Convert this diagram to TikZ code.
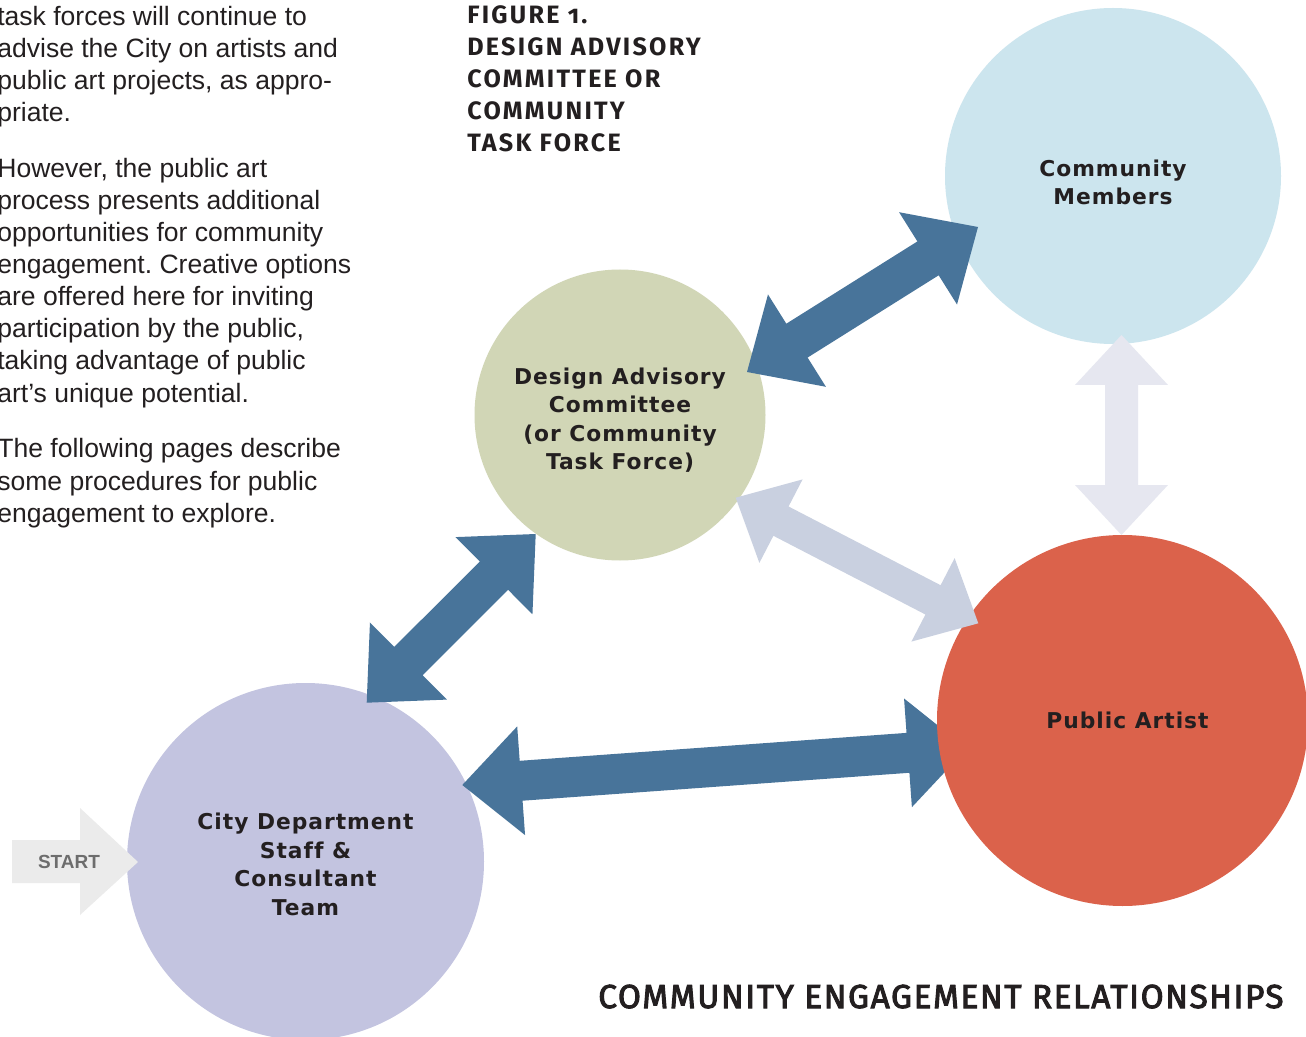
\documentclass[tikz,border=0pt]{standalone}
\usepackage{fontspec}
\setmainfont{Liberation Sans}
\newfontfamily\headfont[Numbers=OldStyle,LetterSpace=9]{Fira Sans}
\newfontfamily\labfont[LetterSpace=4.5,Ligatures=NoCommon]{DejaVu Sans}
\newfontfamily\titlefont[FakeBold=3,LetterSpace=5]{Fira Sans}
\usetikzlibrary{calc}
\definecolor{darkarrow}{HTML}{48749A}
\definecolor{lightarrow}{HTML}{C9D0E0}
\definecolor{paleArrow}{HTML}{E6E7F0}
\definecolor{cmfill}{HTML}{CCE5EE}
\definecolor{dacfill}{HTML}{D1D6B6}
\definecolor{pafill}{HTML}{DB624B}
\definecolor{cityfill}{HTML}{C3C4E0}
\definecolor{startfill}{HTML}{EBEBEB}
\definecolor{startink}{HTML}{6D6D6D}
\definecolor{ink}{HTML}{231F20}
% fat double arrow: #1,#2 tip coordinates, #3 half shaft, #4 half head, #5 head length, #6 colour
\newcommand\fatdbl[6]{%
  \coordinate (#1x) at ($(#1)!#5!(#2)$);
  \coordinate (#2x) at ($(#2)!#5!(#1)$);
  \fill[#6] (#1) -- ($(#1x)!#4!90:(#2)$) -- ($(#1x)!#3!90:(#2)$)
    -- ($(#2x)!#3!-90:(#1)$) -- ($(#2x)!#4!-90:(#1)$) -- (#2)
    -- ($(#2x)!#4!90:(#1)$) -- ($(#2x)!#3!90:(#1)$)
    -- ($(#1x)!#3!-90:(#2)$) -- ($(#1x)!#4!-90:(#2)$) -- cycle;}
% centred label block lowered by #1 (box dimensions kept)
\newcommand\lowlab[2]{\raisebox{-#1}[\height][\depth]{\begin{tabular}{@{}c@{}}#2\end{tabular}}}
\begin{document}
\frenchspacing
\begin{tikzpicture}[x=0.02cm,y=-0.02cm,
  bubble/.style={circle,inner sep=0pt,draw=none,text=ink,
    font=\labfont\bfseries\fontsize{12.4pt}{16.2pt}\selectfont},
  body/.style={anchor=base west,inner sep=0pt,text=ink,
    font=\fontsize{15.1pt}{18pt}\selectfont},
  head/.style={anchor=base west,inner sep=0pt,text=ink,
    font=\headfont\bfseries\fontsize{14.3pt}{18pt}\selectfont}]
\fill[white] (0,0) rectangle (1306,1037);
\useasboundingbox (0,0) rectangle (1306,1037);

% body text
\node[body] (b1) at (-3,26) {task forces will continue to};
\node[body] (b2) at (-3,58) {advise the City on artists and};
\node[body] (b3) at (-3,90) {public art projects, as appro-};
\node[body] (b4) at (-3,122) {priate.};
\node[body] (b5) at (-3,178) {However, the public art};
\node[body] (b6) at (-3,210) {process presents additional};
\node[body] (b7) at (-3,242) {opportunities for community};
\node[body] (b8) at (-3,274) {engagement. Creative options};
\node[body] (b9) at (-3,306) {are offered here for inviting};
\node[body] (b10) at (-3,338) {participation by the public,};
\node[body] (b11) at (-3,370) {taking advantage of public};
\node[body] (b12) at (-3,402) {art’s unique potential.};
\node[body] (b13) at (-3,458) {The following pages describe};
\node[body] (b14) at (-3,490) {some procedures for public};
\node[body] (b15) at (-3,522) {engagement to explore.};

% figure heading
\node[head] (h1) at (467,24) {FIGURE 1.};
\node[head] (h2) at (467,56) {DESIGN ADVISORY};
\node[head] (h3) at (467,88) {COMMITTEE OR};
\node[head] (h4) at (467,120) {COMMUNITY};
\node[head] (h5) at (467,152) {TASK FORCE};

% circles
\node[bubble,fill=cityfill,minimum size=357*0.02cm] (city) at (305.5,861.5)
  {\lowlab{3.1pt}{City Department\\Staff \&\\Consultant\\Team}};
\coordinate (a3s) at (462.3,785);
\coordinate (a3e) at (966.8,748.6);
\fatdbl{a3s}{a3e}{0.4cm}{1.09cm}{1.18cm}{darkarrow}
\node[bubble,fill=pafill,minimum size=371*0.02cm] (pa) at (1122.5,720.5) {\hspace*{0.2cm}Public Artist};
\node[bubble,fill=cmfill,minimum size=336*0.02cm] (cm) at (1113,176)
  {\lowlab{5.1pt}{Community\\Members}};
\node[bubble,fill=dacfill,minimum size=291*0.02cm] (dac) at (620,415)
  {\lowlab{3.7pt}{Design Advisory\\Committee\\(or Community\\Task Force)}};

% arrows
\coordinate (a1s) at (747,372);
\coordinate (a1e) at (978,227);
\fatdbl{a1s}{a1e}{0.4cm}{1.09cm}{1.18cm}{darkarrow}
\coordinate (a2s) at (366.7,702.7);
\coordinate (a2e) at (535.7,534);
\fatdbl{a2s}{a2e}{0.4cm}{1.09cm}{1.18cm}{darkarrow}
\coordinate (a4s) at (735.7,497.7);
\coordinate (a4e) at (978.3,623.3);
\fatdbl{a4s}{a4e}{0.33cm}{0.94cm}{1.02cm}{lightarrow}
\coordinate (a5s) at (1121.5,335);
\coordinate (a5e) at (1121.5,535);
\fatdbl{a5s}{a5e}{0.33cm}{0.93cm}{1.0cm}{paleArrow}

% start arrow
\coordinate (stip) at (138,862);
\fill[startfill] (12,840) -- (80,840) -- (80,808) -- (stip) -- (80,915) -- (80,883) -- (12,883) -- cycle;
\node[text=startink,font=\bfseries\fontsize{10.8pt}{13pt}\selectfont,inner sep=0pt] (start) at (69,862) {START};

% bottom title
\node[anchor=base west,inner sep=0pt,text=ink,font=\titlefont\fontsize{18.9pt}{22pt}\selectfont]
  (title) at (598,1008) {COMMUNITY ENGAGEMENT RELATIONSHIPS};
\end{tikzpicture}
\end{document}
